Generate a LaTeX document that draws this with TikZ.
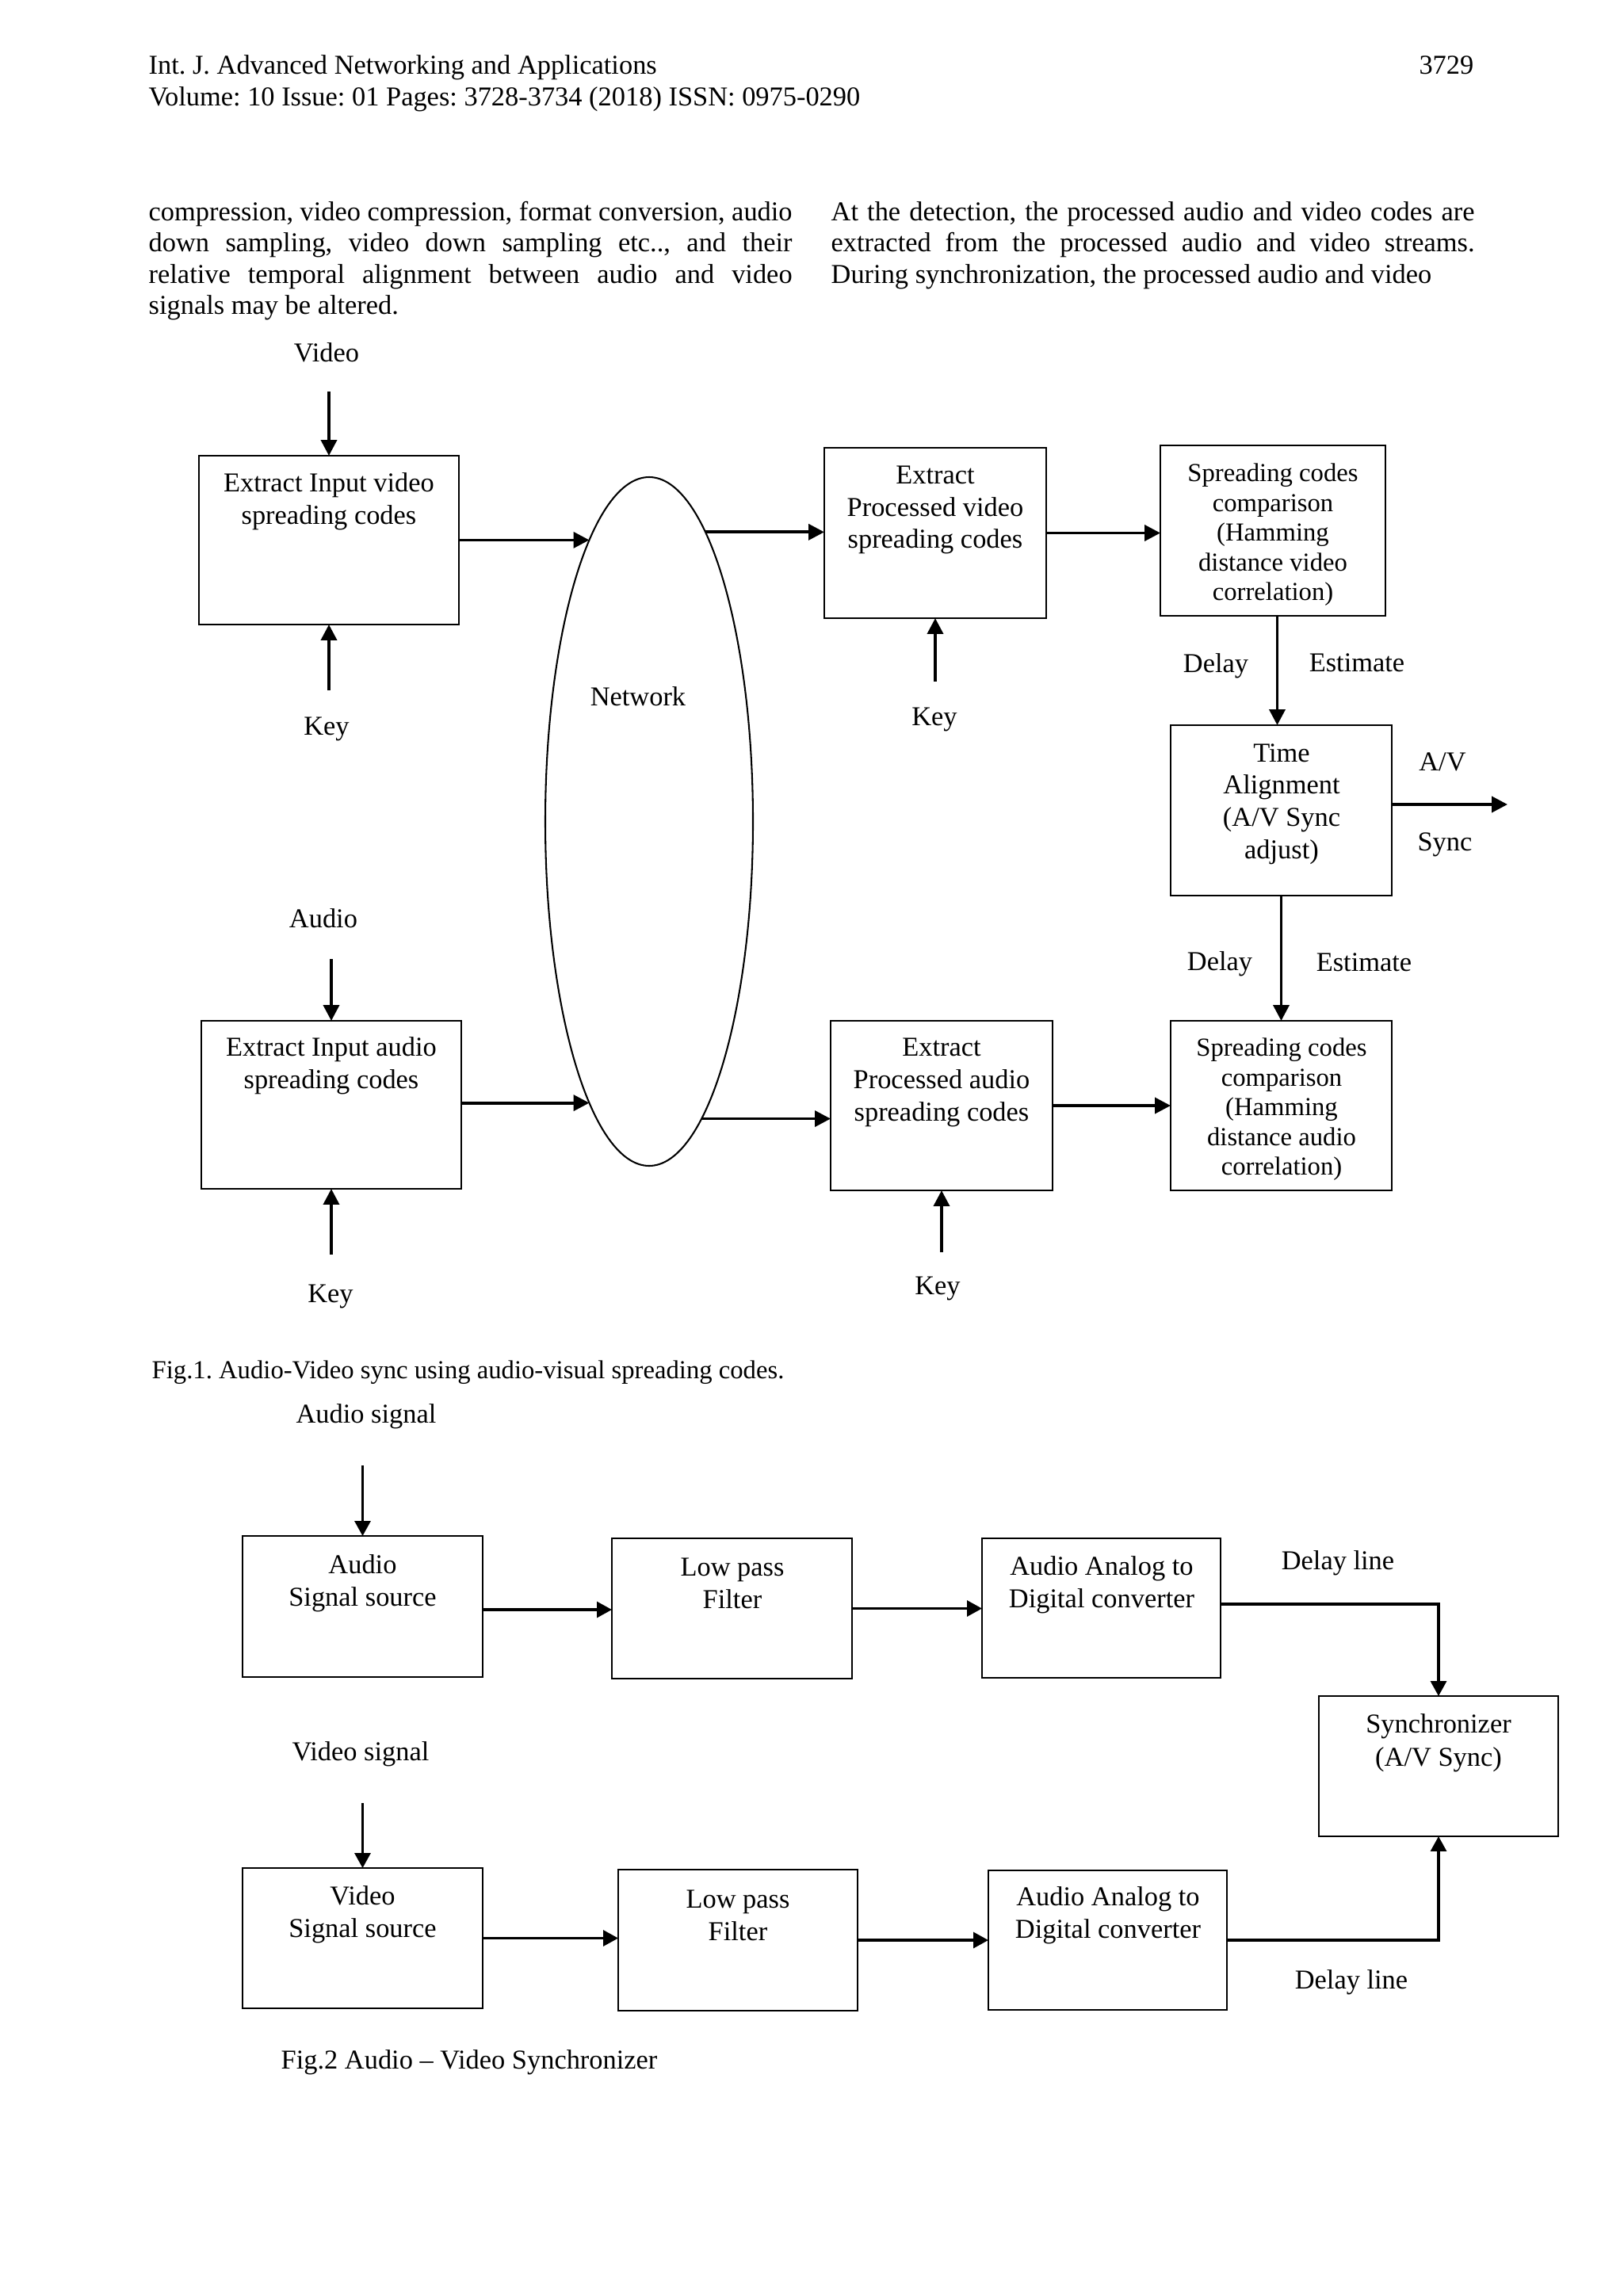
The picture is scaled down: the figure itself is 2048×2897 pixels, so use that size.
\documentclass[tikz,border=0pt]{standalone}
\usepackage{fontspec}
\setmainfont{Liberation Serif}
\usetikzlibrary{arrows.meta, shapes.geometric, fit}
\newcommand\pxu{0.290663pt}
\newcommand\jline[1]{\hbox to 236pt{#1}}
\frenchspacing
\begin{document}
\begin{tikzpicture}[x=0.290663pt, y=-0.290663pt,
  box/.style={draw, line width=0.75pt, inner sep=0pt, outer sep=0pt},
  btxt/.style={align=center, inner sep=0pt, font=\fontsize{10}{11.8}\selectfont},
  stxt/.style={align=center, inner sep=0pt, font=\fontsize{9.5}{10.9}\selectfont},
  lbl/.style={inner sep=0pt, font=\fontsize{10}{12}\selectfont},
  ptxt/.style={inner sep=0pt, anchor=base west, font=\fontsize{10}{12}\selectfont},
  arr/.style={line width=1.1pt, -{Triangle[length=5.8pt, width=5.8pt]}},
  arrb/.style={line width=0.9pt, -{Triangle[length=5.5pt, width=5.8pt]}}]
\fill[white] (0,0) rectangle (2048,2897);
\useasboundingbox (0,0) rectangle (2048,2897);

% ---------- page header and running text ----------
\node[ptxt] (h1) at (187,93) {Int. J. Advanced Networking and Applications};
\node[ptxt, anchor=base east] (h2) at (1860,93) {3729};
\node[ptxt] (h3) at (187,133) {Volume: 10 Issue: 01 Pages: 3728-3734 (2018) ISSN: 0975-0290};

\node[ptxt] (l1) at (187,278) {\jline{compression, video compression, format conversion, audio}};
\node[ptxt] (l2) at (187,317.5) {\jline{down sampling, video down sampling etc.., and their}};
\node[ptxt] (l3) at (187,357) {\jline{relative temporal alignment between audio and video}};
\node[ptxt] (l4) at (187,396.5) {signals may be altered.};
\node[ptxt] (r1) at (1048,278) {\jline{At the detection, the processed audio and video codes are}};
\node[ptxt] (r2) at (1048,317.5) {\jline{extracted from the processed audio and video streams.}};
\node[ptxt] (r3) at (1048,357) {During synchronization, the processed audio and video};

% ---------- Fig. 1 ----------
\node[box, fit={(251,575) (579,788)}] (b1) {};
\node[btxt] (t1) at (415,633) {Extract Input video\\spreading codes};
\node[box, fit={(1040,565) (1320,780)}] (b2) {};
\node[btxt] (t2) at (1180,643.5) {Extract\\Processed video\\spreading codes};
\node[box, fit={(1464,562) (1748,777)}] (b3) {};
\node[stxt] (t3) at (1606,675) {Spreading codes\\comparison\\(Hamming\\distance video\\correlation)};
\node[box, fit={(1477,915) (1756,1130)}] (b4) {};
\node[btxt] (t4) at (1617,1014.5) {Time\\Alignment\\(A/V Sync\\adjust)};
\node[box, fit={(1048,1288) (1328,1502)}] (b5) {};
\node[btxt] (t5) at (1188,1366) {Extract\\Processed audio\\spreading codes};
\node[box, fit={(1477,1288) (1756,1502)}] (b6) {};
\node[stxt] (t6) at (1617,1400) {Spreading codes\\comparison\\(Hamming\\distance audio\\correlation)};
\node[box, fit={(254,1288) (582,1500)}] (b7) {};
\node[btxt] (t7) at (418,1345) {Extract Input audio\\spreading codes};

\node[ellipse, draw, line width=0.6pt, minimum width=262*\pxu, minimum height=869*\pxu,
      inner sep=0pt, outer sep=0pt] (net) at (819,1036.5) {};
\node[lbl] (netl) at (805,879) {Network};

\node[lbl] (vidl) at (412,445) {Video};
\node[lbl] (key1) at (412,920) {Key};
\node[lbl] (key2) at (1179,908) {Key};
\node[lbl] (aud) at (408,1159) {Audio};
\node[lbl] (key3) at (417,1636) {Key};
\node[lbl] (key4) at (1183,1626) {Key};
\node[lbl] (d1) at (1534,840) {Delay};
\node[lbl] (e1) at (1712,836) {Estimate};
\node[lbl] (d2) at (1539,1216) {Delay};
\node[lbl] (e2) at (1721,1214) {Estimate};
\node[lbl] (av) at (1820,961) {A/V};
\node[lbl] (sync) at (1823,1066) {Sync};
\node[lbl, anchor=west, font=\fontsize{9.5}{11}\selectfont] (cap1) at (191,1732) {Fig.1. Audio-Video sync using audio-visual spreading codes.};

\coordinate (vin) at (415,494);
\coordinate (k1) at (415,871);
\coordinate (k2) at (1180,860);
\coordinate (ain) at (418,1210);
\coordinate (k3) at (418,1583);
\coordinate (k4) at (1188,1580);
\coordinate (avout) at (1902,1015);
\coordinate (c34) at ([xshift=-5*\pxu]b4.north);

\draw[arr] (vin) -- (b1.north);
\draw[arr] (k1) -- (b1.south);
\draw[arr] (k2) -- (b2.south);
\draw[arr] (ain) -- (b7.north);
\draw[arr] (k3) -- (b7.south);
\draw[arr] (k4) -- (b5.south);
\draw[arr] (b1.east |- net.102) -- (net.102);
\draw[arr] (net.79) -- (net.79 -| b2.west);
\draw[arr] (b2.east) -- (b2.east -| b3.west);
\draw[arr] (c34 |- b3.south) -- (c34);
\draw[arr] (b4.east |- avout) -- (avout);
\draw[arr] (b4.south) -- (b4.south |- b6.north);
\draw[arr] (b7.east |- net.258) -- (net.258);
\draw[arr] (net.280) -- (net.280 -| b5.west);
\draw[arr] (b5.east) -- (b5.east -| b6.west);

% ---------- Fig. 2 ----------
\node[box, fit={(306,1938) (609,2116)}] (a1) {};
\node[btxt] (ta1) at (457.5,1998) {Audio\\Signal source};
\node[box, fit={(772,1941) (1075,2118)}] (lp1) {};
\node[btxt] (tlp1) at (924,1998) {Low pass\\Filter};
\node[box, fit={(1239,1941) (1540,2117)}] (adc1) {};
\node[btxt] (tadc1) at (1390,2000) {Audio Analog to\\Digital converter};
\node[box, fit={(1664,2140) (1966,2317)}] (sy) {};
\node[btxt, font=\fontsize{10}{12.2}\selectfont] (tsy) at (1815,2199) {Synchronizer\\(A/V Sync)};
\node[box, fit={(306,2357) (609,2534)}] (v1) {};
\node[btxt] (tv1) at (457.5,2416) {Video\\Signal source};
\node[box, fit={(780,2359) (1082,2537)}] (lp2) {};
\node[btxt] (tlp2) at (931,2417) {Low pass\\Filter};
\node[box, fit={(1247,2360) (1548,2536)}] (adc2) {};
\node[btxt] (tadc2) at (1398,2417) {Audio Analog to\\Digital converter};

\node[lbl] (asig) at (462,1787) {Audio signal};
\node[lbl] (vsig) at (455,2213) {Video signal};
\node[lbl] (dl1) at (1688,1972) {Delay line};
\node[lbl] (dl2) at (1705,2501) {Delay line};
\node[lbl, anchor=west] (cap2) at (354,2602) {Fig.2 Audio -- Video Synchronizer};

\coordinate (asin) at (457.5,1849);
\coordinate (vsin) at (457.5,2275);
\draw[arrb] (asin) -- (a1.north);
\draw[arrb] (vsin) -- (v1.north);
\draw[arrb] ([yshift=-4*\pxu]a1.east) -- ([yshift=-4*\pxu]a1.east -| lp1.west);
\draw[arrb] (lp1.east) -- (lp1.east -| adc1.west);
\draw[arrb] ([yshift=5*\pxu]adc1.east) -| (sy.north);
\draw[arrb] (v1.east) -- (v1.east -| lp2.west);
\draw[arrb] (lp2.east) -- (lp2.east -| adc2.west);
\draw[arrb] (adc2.east) -| (sy.south);
\end{tikzpicture}
\end{document}
